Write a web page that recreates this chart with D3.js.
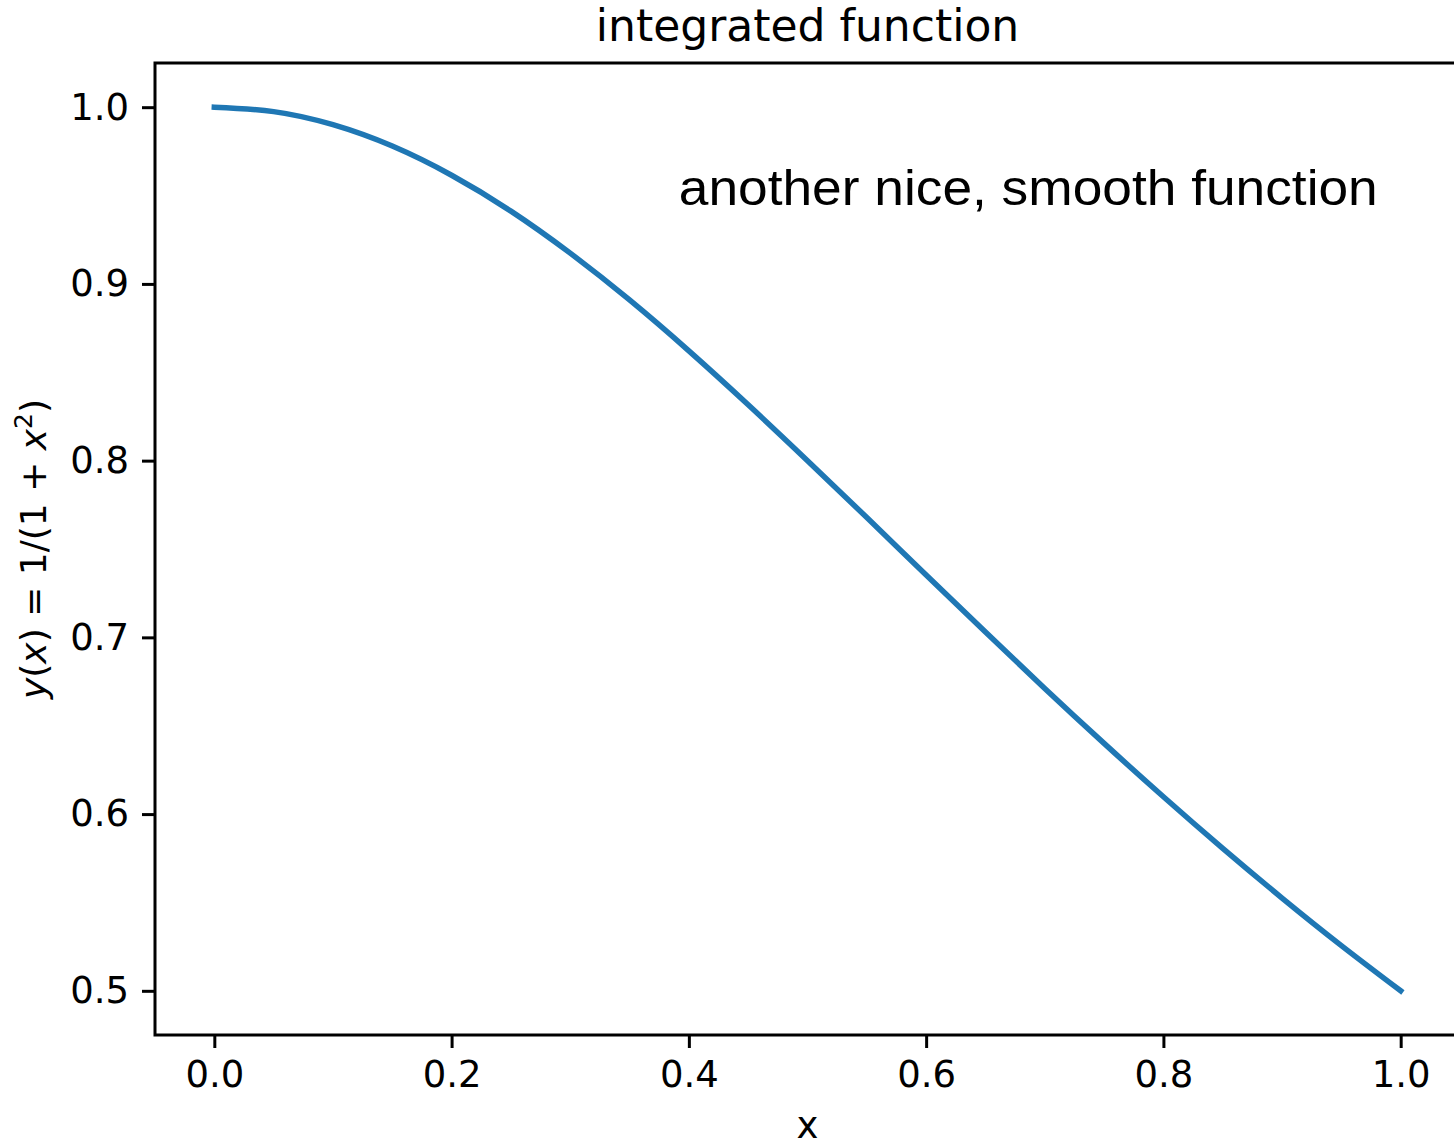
<!DOCTYPE html>
<html>
<head>
<meta charset="utf-8">
<script src="https://cdn.jsdelivr.net/npm/d3@7"></script>
<style>
  body { margin: 0; background: #fff; }
  svg { display: block; }
  .tick text { font-family: "DejaVu Sans", sans-serif; }
</style>
</head>
<body>
<div id="chart"></div>
<script>
// values
const xValues = [0, 0.05, 0.1, 0.15, 0.2, 0.25, 0.3, 0.35, 0.4, 0.45, 0.5,
                 0.55, 0.6, 0.65, 0.7, 0.75, 0.8, 0.85, 0.9, 0.95, 1.0];
const yValues = [1.0000, 0.9975, 0.9901, 0.9780, 0.9615, 0.9412, 0.9174, 0.8909, 0.8621, 0.8316, 0.8000,
                 0.7678, 0.7353, 0.7030, 0.6711, 0.6400, 0.6098, 0.5806, 0.5525, 0.5256, 0.5000];
const xTicks = [0.0, 0.2, 0.4, 0.6, 0.8, 1.0];
const yTicks = [0.5, 0.6, 0.7, 0.8, 0.9, 1.0];

const titleText = "integrated function";
const noteText = "another nice, smooth function";
const xLabel = "x";

const W = 1454, H = 1143;
const margin = {top: 63, right: -6, bottom: 108, left: 155};
const width = W - margin.left - margin.right;
const height = H - margin.top - margin.bottom;

const svg = d3.select("#chart").append("svg")
    .attr("width", W)
    .attr("height", H);

const g = svg.append("g")
    .attr("transform", "translate(" + margin.left + "," + margin.top + ")");

const x = d3.scaleLinear().domain([-0.05, 1.05]).range([0, width]);
const y = d3.scaleLinear().domain([0.475, 1.025]).range([height, 0]);

const data = xValues.map((v, i) => ({x: v, y: yValues[i]}));

// curve
const line = d3.line()
    .x(d => x(d.x))
    .y(d => y(d.y))
    .curve(d3.curveNatural);

g.append("path")
    .datum(data)
    .attr("d", line)
    .attr("fill", "none")
    .attr("stroke", "#1f77b4")
    .attr("stroke-width", 5.5)
    .attr("stroke-linecap", "square");

// axes
const xAxis = d3.axisBottom(x).tickValues(xTicks).tickFormat(d3.format(".1f"))
    .tickSize(13).tickPadding(13);
const yAxis = d3.axisLeft(y).tickValues(yTicks).tickFormat(d3.format(".1f"))
    .tickSize(13).tickPadding(13);

const gx = g.append("g")
    .attr("transform", "translate(0," + height + ")")
    .call(xAxis);
const gy = g.append("g").call(yAxis);

[gx, gy].forEach(a => {
    a.select(".domain").remove();
    a.selectAll(".tick line").attr("stroke", "#000").attr("stroke-width", 3);
    a.selectAll(".tick text").attr("fill", "#000").style("font-size", "37px");
});

// spines
g.append("rect")
    .attr("x", 0).attr("y", 0)
    .attr("width", width).attr("height", height)
    .attr("fill", "none")
    .attr("stroke", "#000")
    .attr("stroke-width", 3);

// title
svg.append("text")
    .attr("x", margin.left + width / 2)
    .attr("y", 41)
    .attr("text-anchor", "middle")
    .style("font-family", "DejaVu Sans, sans-serif")
    .style("font-size", "44px")
    .text(titleText);

// x label
svg.append("text")
    .attr("x", margin.left + width / 2)
    .attr("y", 1138)
    .attr("text-anchor", "middle")
    .style("font-family", "DejaVu Sans, sans-serif")
    .style("font-size", "37px")
    .text(xLabel);

// y label with math
const yl = svg.append("text")
    .attr("transform", "translate(46," + (margin.top + height / 2) + ") rotate(-90)")
    .attr("text-anchor", "middle")
    .style("font-family", "DejaVu Sans, sans-serif")
    .style("font-size", "36px");
yl.append("tspan").style("font-style", "italic").text("y");
yl.append("tspan").text("(");
yl.append("tspan").style("font-style", "italic").text("x");
yl.append("tspan").text(") = 1/(1 + ");
yl.append("tspan").style("font-style", "italic").text("x");
yl.append("tspan").attr("dy", -14).style("font-size", "25px").text("2");
yl.append("tspan").attr("dy", 14).text(")");

// annotation
g.append("text")
    .attr("x", x(0.3915))
    .attr("y", y(0.9446))
    .attr("textLength", 699)
    .attr("lengthAdjust", "spacingAndGlyphs")
    .style("font-family", "Liberation Sans, Arial, sans-serif")
    .style("font-size", "50px")
    .text(noteText);
</script>
</body>
</html>
